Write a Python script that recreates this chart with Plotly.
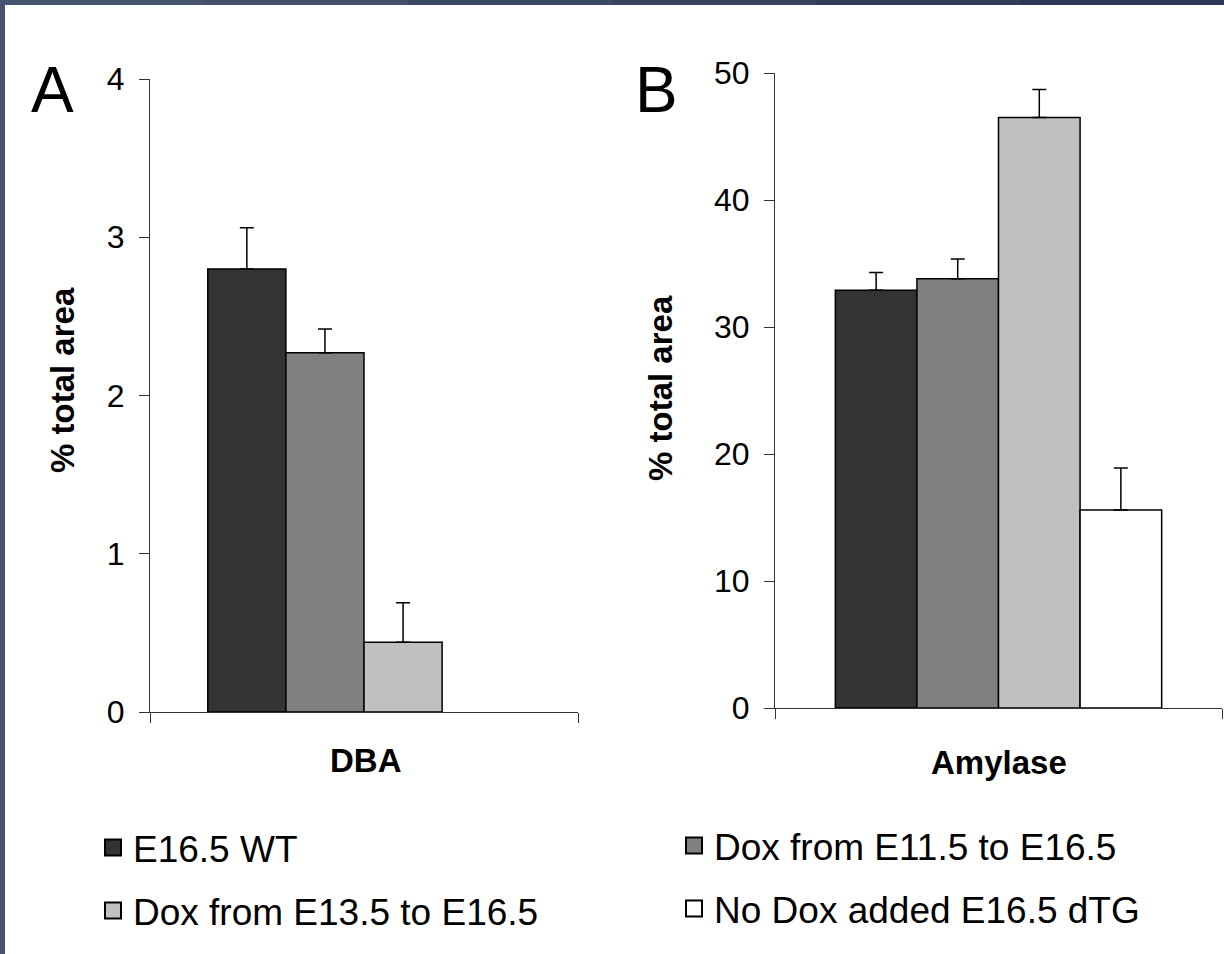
import plotly.graph_objects as go

series_names = ["E16.5 WT", "Dox from E11.5 to E16.5", "Dox from E13.5 to E16.5", "No Dox added E16.5 dTG"]
series_colors = ["#333333", "#808080", "#c0c0c0", "#ffffff"]

dba_values = [2.80, 2.27, 0.44, None]
dba_errors = [0.26, 0.15, 0.25, None]

amylase_values = [32.9, 33.8, 46.5, 15.6]
amylase_errors = [1.4, 1.55, 2.2, 3.3]

panel_a_ticks = [0, 1, 2, 3, 4]
panel_b_ticks = [0, 10, 20, 30, 40, 50]

W, H = 1224, 954
FONT = "Liberation Sans, Arial, sans-serif"

fig = go.Figure()

legend_ids = ["legend", "legend2", "legend3", "legend4"]

for i, name in enumerate(series_names):
    v = dba_values[i]
    e = dba_errors[i]
    fig.add_trace(go.Bar(
        x=[0], y=[v], name=name, xaxis="x", yaxis="y",
        marker=dict(color=series_colors[i], line=dict(color="#000000", width=1.5)),
        error_y=dict(type="data", array=[e], arrayminus=[0], symmetric=False,
                     color="#000000", thickness=1.5, width=7, visible=e is not None),
        showlegend=False, offsetgroup=str(i), legendgroup=name,
    ))

for i, name in enumerate(series_names):
    fig.add_trace(go.Bar(
        x=[0], y=[amylase_values[i]], name=name, xaxis="x2", yaxis="y2",
        marker=dict(color=series_colors[i], line=dict(color="#000000", width=1.5)),
        error_y=dict(type="data", array=[amylase_errors[i]], arrayminus=[0], symmetric=False,
                     color="#000000", thickness=1.5, width=7),
        showlegend=False, offsetgroup=str(i), legendgroup=name,
    ))

# legend entries (square swatches like the original)
for i, name in enumerate(series_names):
    fig.add_trace(go.Scatter(
        x=[None], y=[None], mode="markers", name=name, xaxis="x2", yaxis="y2",
        marker=dict(symbol="square", size=20, color=series_colors[i],
                    line=dict(color="#000000", width=2)),
        showlegend=True, legend=legend_ids[i], legendgroup=name,
    ))

def px_x(p):
    return p / W

def px_y(p):
    return 1 - p / H

axis_common = dict(showgrid=False, zeroline=False, showline=True, linecolor="#333333",
                   linewidth=1.2, ticks="outside", ticklen=10, tickcolor="#333333", tickwidth=1.2,
                   automargin=False)

fig.update_layout(
    template="none",
    width=W, height=H,
    margin=dict(l=0, r=0, t=0, b=0, pad=0, autoexpand=False),
    paper_bgcolor="#ffffff", plot_bgcolor="#ffffff",
    font=dict(family=FONT, color="#000000"),
    barmode="group", bargap=0.27, bargroupgap=0,
    xaxis=dict(domain=[px_x(150), px_x(578)], range=[-0.5, 0.5], tickvals=[-0.5, 0.5],
               showticklabels=False, anchor="y", **axis_common),
    yaxis=dict(domain=[px_y(712), px_y(79)], range=[0, 4], tickvals=panel_a_ticks,
               tickfont=dict(size=32, family=FONT), ticklabelstandoff=8, anchor="x", **axis_common),
    xaxis2=dict(domain=[px_x(775), px_x(1222)], range=[-0.5, 0.5], tickvals=[-0.5, 0.5],
                showticklabels=False, anchor="y2", **axis_common),
    yaxis2=dict(domain=[px_y(708), px_y(73)], range=[0, 50], tickvals=panel_b_ticks,
                tickfont=dict(size=32, family=FONT), ticklabelstandoff=8, anchor="x2", **axis_common),
)

legend_pos = [(93, 848), (674, 846), (93, 911), (674, 909)]
for lid, (lx, ly) in zip(legend_ids, legend_pos):
    fig.update_layout({lid: dict(x=px_x(lx), y=px_y(ly), xanchor="left", yanchor="middle",
                                 bgcolor="rgba(0,0,0,0)", borderwidth=0, itemsizing="trace",
                                 font=dict(size=37, family=FONT, color="#000000"))})

annos = [
    dict(text="A", x=px_x(52), y=px_y(90), font=dict(size=64)),
    dict(text="B", x=px_x(656), y=px_y(90), font=dict(size=64)),
    dict(text="<b>% total area</b>", x=px_x(62), y=px_y(380), textangle=-90, font=dict(size=33)),
    dict(text="<b>% total area</b>", x=px_x(660), y=px_y(388), textangle=-90, font=dict(size=33)),
    dict(text="<b>DBA</b>", x=px_x(366), y=px_y(760), font=dict(size=33)),
    dict(text="<b>Amylase</b>", x=px_x(999), y=px_y(762), font=dict(size=33)),
]
for a in annos:
    fig.add_annotation(xref="paper", yref="paper", showarrow=False, xanchor="center",
                       yanchor="middle", **a)

# decorative frame bands at top and left edges
band_colors = ["#46556f", "#425069", "#3d4a66", "#38435f", "#333d5a", "#2e3756"]
n = len(band_colors)
for k, c in enumerate(band_colors):
    fig.add_shape(type="rect", xref="paper", yref="paper", x0=k / n, x1=(k + 1) / n,
                  y0=px_y(5), y1=1, fillcolor=c, line=dict(width=0), layer="above")
fig.add_shape(type="rect", xref="paper", yref="paper", x0=0, x1=px_x(5), y0=0, y1=1,
              fillcolor="#45536e", line=dict(width=0), layer="above")

fig.write_html("out.html")
